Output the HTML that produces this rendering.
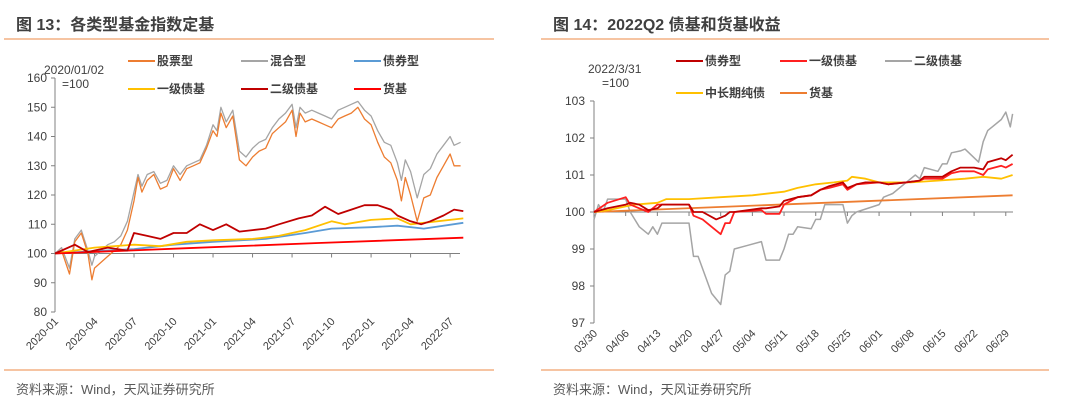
<!DOCTYPE html>
<html><head><meta charset="utf-8">
<style>
html,body{margin:0;padding:0;background:#fff;}
svg{display:block;font-family:"Liberation Sans","Noto Sans CJK SC",sans-serif;}
</style></head>
<body>
<svg id="root" width="1080" height="408" viewBox="0 0 1080 408">
  <g>
    <text x="16" y="30" font-size="16" font-weight="bold" fill="#404040">图 13：各类型基金指数定基</text>
    <line x1="4" y1="39" x2="494" y2="39" stroke="#f4b183" stroke-width="1.5"/>
    <line x1="4" y1="370" x2="494" y2="370" stroke="#f4b183" stroke-width="1.5"/>
    <text x="16" y="394" font-size="13" fill="#595959">资料来源：Wind，天风证券研究所</text>
    <text x="44" y="74" font-size="12" fill="#404040">2020/01/02</text>
    <text x="62" y="88" font-size="12" fill="#404040">=100</text>
  </g>
  <g>
    <text x="553" y="30" font-size="16" font-weight="bold" fill="#404040">图 14：2022Q2 债基和货基收益</text>
    <line x1="541" y1="39" x2="1049" y2="39" stroke="#f4b183" stroke-width="1.5"/>
    <line x1="541" y1="370" x2="1049" y2="370" stroke="#f4b183" stroke-width="1.5"/>
    <text x="553" y="394" font-size="13" fill="#595959">资料来源：Wind，天风证券研究所</text>
    <text x="588" y="73" font-size="12" fill="#404040">2022/3/31</text>
    <text x="602" y="87" font-size="12" fill="#404040">=100</text>
  </g>
  <g id="c13"></g>
  <g id="c14"></g>
</svg>
<script>
// ===== Chart 13 data (x = months since 2020-01) =====
const c13Ticks = ["2020-01","2020-04","2020-07","2020-10","2021-01","2021-04","2021-07","2021-10","2022-01","2022-04","2022-07"];
const c13YTicks = [80,90,100,110,120,130,140,150,160];
const stockX = [0,0.5,1.1,1.5,2,2.5,2.8,3,3.5,4,4.5,5,5.5,6,6.3,6.6,7,7.5,8,8.5,9,9.5,10,10.5,11,11.5,12,12.3,12.6,13,13.5,14,14.5,15,15.5,16,16.5,17,17.5,18,18.3,18.6,19,19.5,20,20.5,21,21.5,22,22.5,23,23.5,24,24.5,25,25.5,26,26.3,26.6,27,27.5,28,28.5,29,29.5,30,30.3,30.8];
const stockY = [100,101,93,104,107,100,91,95,97,99,101,103,108,118,126,121,125,127,122,123,129,125,129,130,131,136,142,140,148,143,147,132,130,133,135,136,141,143,145,149,140,148,145,146,145,144,143,146,147,148,150,146,144,138,133,131,125,118,126,120,111,119,120,126,130,134,130,130];
const mixedY = [100,102,95,105,108,101,96,99,101,103,104,106,111,121,127,123,127,128,124,125,130,127,130,131,132,137,144,142,150,145,149,135,133,136,138,139,143,146,148,151,143,150,148,149,148,147,146,149,150,151,152,149,147,142,138,137,131,125,132,128,119,127,129,134,137,140,137,138];
const bondX = [0,3,6,9,12,16,19,21,24,26,28,31];
const bondY = [100,100.8,101.5,103,104,105,107,108.5,109,109.5,108.5,110.5];
const lvl1X = [0,3,6,8,10,12,15,17,19,21,22,24,26,27,28,31];
const lvl1Y = [100,102,103,102.5,104,104.5,105,106,108,111,110,111.5,112,110,110.5,112];
const lvl2X = [0,1.5,2.5,4,5.5,6,7,8,9,10,11,12,13,14,15,16,17,18.5,19.5,20.5,21.5,22.5,23.5,24.5,25.5,26,27,27.8,28.5,29.5,30.3,31];
const lvl2Y = [100,103,100.5,102,101,107,106,105,107,107,110,108,110,107.5,108,108.5,110,112,113,116,113.5,115,116.5,116.5,115,113,111,110,111,113,115,114.5];
const mmfX = [0,10,20,31];
const mmfY = [100,101.8,103.6,105.4];

// ===== Chart 14 data (x = days since 03/30) =====
const c14Ticks = ["03/30","04/06","04/13","04/20","04/27","05/04","05/11","05/18","05/25","06/01","06/08","06/15","06/22","06/29"];
const c14YTicks = [97,98,99,100,101,102,103];
const l2X = [0,1,2,3,7,8,10,12,13,14,15,21,22,23,26,28,29,30,31,34,37,38,41,42,43,44,45,48,49,50,51,55,56,57,58,63,64,66,69,71,72,73,76,77,78,79,81,82,85,86,87,88,90,91,92,92.5];
const l2Y = [99.8,100.2,100,100.35,100.35,100,99.6,99.4,99.6,99.4,99.7,99.7,98.8,98.8,97.8,97.5,98.3,98.4,99,99.1,99.2,98.7,98.7,99,99.4,99.4,99.6,99.55,99.8,99.8,100.2,100.2,99.7,99.9,100,100.2,100.4,100.5,100.8,101,100.9,101.2,101.1,101.3,101.3,101.6,101.65,101.7,101.35,101.9,102.2,102.3,102.5,102.7,102.3,102.65];
const bdX = [0,3,7,8,10,12,14,15,21,22,24,27,29,30,31,37,38,41,42,45,48,50,52,55,56,58,60,63,65,69,72,73,77,79,81,84,86,87,90,91,92.5];
const bdY = [100,100.1,100.2,100.25,100.2,100.05,100.1,100.2,100.2,100,100,99.8,99.9,100,100,100.1,100.1,100.15,100.3,100.4,100.45,100.6,100.7,100.8,100.65,100.75,100.8,100.8,100.75,100.8,100.85,100.95,100.95,101.1,101.2,101.2,101.15,101.35,101.45,101.4,101.55];
const b1X = [0,3,7,8,10,12,14,21,22,24,26,28,29,30,31,37,38,41,42,45,48,50,52,55,56,58,63,65,69,72,73,77,79,81,84,86,87,90,91,92.5];
const b1Y = [100,100.25,100.4,100.2,100.1,100,100.2,100.2,99.9,99.8,99.6,99.4,99.7,99.7,100,100.05,99.95,99.95,100.2,100.4,100.45,100.6,100.65,100.75,100.6,100.75,100.8,100.75,100.8,100.85,100.9,100.9,101.05,101.1,101.1,101.0,101.15,101.25,101.2,101.3];
const pureX = [0,3,7,9,14,16,21,28,35,42,45,49,53,56,57,60,63,70,76,82,86,90,92.5];
const pureY = [100,100.05,100.15,100.2,100.25,100.35,100.35,100.4,100.45,100.55,100.65,100.75,100.8,100.85,100.95,100.9,100.8,100.8,100.85,100.9,100.95,100.9,101];
const mmf2X = [0,92.5];
const mmf2Y = [100,100.45];

const NS = "http://www.w3.org/2000/svg";
function mk(parent, tag, attrs){const e=document.createElementNS(NS,tag);for(const k in attrs)e.setAttribute(k,attrs[k]);parent.appendChild(e);return e;}

// ---- Chart 13 ----
(function(){
  const g=document.getElementById('c13');
  const x0=55, perM=13.17, yTop=78, yBot=312;
  const X=m=>x0+m*perM;
  const Y=v=>yBot-(v-80)/80*(yBot-yTop);
  const ax=mk(g,'line',{x1:x0,y1:yTop,x2:x0,y2:yBot,stroke:'#808080','stroke-width':1});
  
  
  c13YTicks.forEach(v=>{
    const t=mk(g,'line',{x1:x0-4,y1:Y(v),x2:x0,y2:Y(v),stroke:'#808080'});
    
    
    const l=mk(g,'text',{x:x0-8,y:Y(v)+4,'font-size':12,fill:'#404040','text-anchor':'end'});
    l.textContent=v;
    
    
  });
  const xa=mk(g,'line',{x1:x0,y1:Y(100),x2:460,y2:Y(100),stroke:'#808080'});
  
  
  c13Ticks.forEach((s,i)=>{
    const xx=X(i*3);
    const t=mk(g,'line',{x1:xx,y1:Y(100),x2:xx,y2:Y(100)+4,stroke:'#808080'});
    
    
    const l=mk(g,'text',{x:xx+4,y:322,'font-size':11,fill:'#404040','text-anchor':'end',transform:`rotate(-45 ${xx+4} 322)`});
    l.textContent=s;
    
    
  });
  const series=[
    ['chart13-line-mixed',stockX,mixedY,'#a5a5a5',1.3],
    ['chart13-line-stock',stockX,stockY,'#ed7d31',1.3],
    ['chart13-line-bond',bondX,bondY,'#5b9bd5',1.8],
    ['chart13-line-level1',lvl1X,lvl1Y,'#ffc000',1.8],
    ['chart13-line-mmf',mmfX,mmfY,'#ff0000',1.8],
    ['chart13-line-level2',lvl2X,lvl2Y,'#c00000',1.8]];
  series.forEach(s=>{
    const p=mk(g,'polyline',{points:s[1].map((m,i)=>X(m).toFixed(1)+','+Y(s[2][i]).toFixed(1)).join(' '),fill:'none',stroke:s[3],'stroke-width':s[4],'stroke-linejoin':'round'});
    
    
  });
  const leg=[['股票型','#ed7d31',128,61],['混合型','#a5a5a5',241,61],['债券型','#5b9bd5',354,61],['一级债基','#ffc000',128,89],['二级债基','#c00000',241,89],['货基','#ff0000',354,89]];
  leg.forEach(L=>{
    const lg=mk(g,'g',{});
    
    
    mk(lg,'line',{x1:L[2],y1:L[3],x2:L[2]+27,y2:L[3],stroke:L[1],'stroke-width':2});
    const t=mk(lg,'text',{x:L[2]+29,y:L[3]+4,'font-size':12,'font-weight':'bold',fill:'#404040'});
    t.textContent=L[0];
  });
})();

// ---- Chart 14 ----
(function(){
  const g=document.getElementById('c14');
  const x0=594, perD=4.525, yTop=101, yBot=323;
  const X=d=>x0+d*perD;
  const Y=v=>yBot-(v-97)/6*(yBot-yTop);
  const ax=mk(g,'line',{x1:x0,y1:yTop,x2:x0,y2:yBot,stroke:'#808080'});
  
  
  c14YTicks.forEach(v=>{
    const t=mk(g,'line',{x1:x0-4,y1:Y(v),x2:x0,y2:Y(v),stroke:'#808080'});
    
    
    const l=mk(g,'text',{x:x0-9,y:Y(v)+4,'font-size':12,fill:'#404040','text-anchor':'end'});
    l.textContent=v;
    
    
  });
  const xa=mk(g,'line',{x1:x0,y1:Y(100),x2:1013,y2:Y(100),stroke:'#808080'});
  
  
  c14Ticks.forEach((s,i)=>{
    const xx=X(i*7);
    const t=mk(g,'line',{x1:xx,y1:Y(100),x2:xx,y2:Y(100)+4,stroke:'#808080'});
    
    
    const l=mk(g,'text',{x:xx+4,y:334,'font-size':11,fill:'#404040','text-anchor':'end',transform:`rotate(-45 ${xx+4} 334)`});
    l.textContent=s;
    
    
  });
  const series=[
    ['chart14-line-level2',l2X,l2Y,'#a5a5a5',1.5],
    ['chart14-line-mmf',mmf2X,mmf2Y,'#ed7d31',1.8],
    ['chart14-line-pure-bond',pureX,pureY,'#ffc000',1.8],
    ['chart14-line-level1',b1X,b1Y,'#ff2020',1.8],
    ['chart14-line-bond',bdX,bdY,'#c00000',1.8]];
  series.forEach(s=>{
    const p=mk(g,'polyline',{points:s[1].map((d,i)=>X(d).toFixed(1)+','+Y(s[2][i]).toFixed(1)).join(' '),fill:'none',stroke:s[3],'stroke-width':s[4],'stroke-linejoin':'round'});
    
    
  });
  const leg=[['债券型','#c00000',676,61],['一级债基','#ff2020',780,61],['二级债基','#a5a5a5',885,61],['中长期纯债','#ffc000',676,93],['货基','#ed7d31',780,93]];
  leg.forEach(L=>{
    const lg=mk(g,'g',{});
    
    
    mk(lg,'line',{x1:L[2],y1:L[3],x2:L[2]+27,y2:L[3],stroke:L[1],'stroke-width':2});
    const t=mk(lg,'text',{x:L[2]+29,y:L[3]+4,'font-size':12,'font-weight':'bold',fill:'#404040'});
    t.textContent=L[0];
  });
})();
</script>
</body></html>
